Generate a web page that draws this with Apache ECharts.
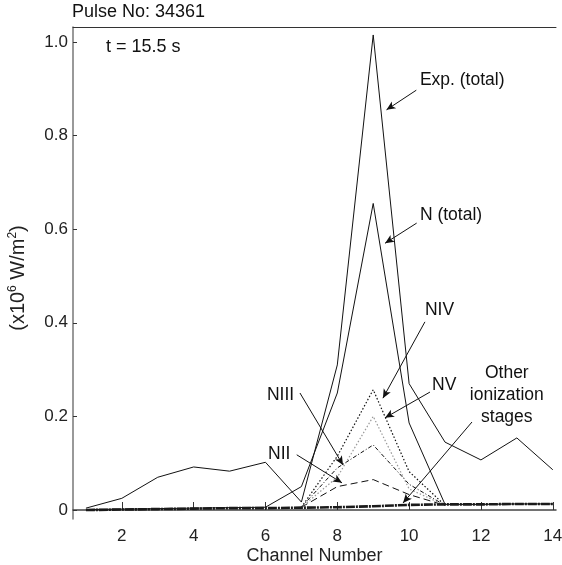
<!DOCTYPE html>
<html>
<head>
<meta charset="utf-8">
<script src="https://cdn.jsdelivr.net/npm/echarts@6/dist/echarts.min.js"></script>
<style>
  html, body { margin: 0; background: #fff; }
  #chart { width: 562px; height: 565px; }
</style>
</head>
<body>
<div id="chart"></div>
<script>
// channel numbers on the x axis
const channels = [1, 2, 3, 4, 5, 6, 7, 8, 9, 10, 11, 12, 13, 14]

// radiated power, x10^6 W/m^2
const expTotal = [0.004, 0.025, 0.07, 0.092, 0.083, 0.102, 0.017, 0.31, 1.015, 0.27, 0.145, 0.107, 0.154, 0.086]
const nTotal = [0.001, 0.002, 0.003, 0.004, 0.005, 0.006, 0.05, 0.25, 0.655, 0.186, 0.012, 0.012, 0.013, 0.013]
const nII = [null, null, null, null, null, null, 0.006, 0.05, 0.065, 0.033, 0.01, null, null, null]
const nIII = [null, null, null, null, null, null, 0.006, 0.09, 0.139, 0.055, 0.01, null, null, null]
const nIV = [null, null, null, null, null, null, 0.006, 0.115, 0.257, 0.082, 0.01, null, null, null]
const nV = [null, null, null, null, null, null, 0.006, 0.07, 0.2, 0.045, 0.01, null, null, null]
const otherStages = [0, 0.001, 0.002, 0.003, 0.004, 0.004, 0.005, 0.006, 0.008, 0.011, 0.012, 0.012, 0.013, 0.013]

const xTicks = [2, 4, 6, 8, 10, 12, 14]
const yTicks = [0, 0.2, 0.4, 0.6, 0.8, 1.0]

// annotation labels: text, label anchor [channel, value], arrow start, arrow tip
const annText = ['Exp. (total)', 'N (total)', 'NIV', 'NV', 'Other\nionization\nstages', 'NIII', 'NII']
const annAnchor = [[10.3, 0.919], [10.3, 0.63], [10.44, 0.427], [10.64, 0.267], [12.72, 0.246], [6.04, 0.246], [6.07, 0.12]]
const annAlign = ['left', 'left', 'left', 'left', 'center', 'left', 'left']
const annFrom = [[10.2, 0.897], [10.21, 0.613], [10.44, 0.402], [10.58, 0.252], [11.75, 0.188], [6.96, 0.25], [6.87, 0.118]]
const annTo = [[9.37, 0.855], [9.33, 0.57], [9.27, 0.239], [9.33, 0.197], [9.83, 0.015], [8.16, 0.096], [8.13, 0.058]]

const font = 'Liberation Sans, Arial, sans-serif'
const pairs = (vals) => channels.map((c, i) => [c, vals[i]])

const chart = echarts.init(document.getElementById('chart'))

function lineSeries(name, vals, color, type, width) {
  return {
    name,
    type: 'line',
    data: pairs(vals),
    showSymbol: false,
    connectNulls: false,
    lineStyle: { color, width, type },
    z: 3,
  }
}

chart.setOption({
  animation: false,
  backgroundColor: '#fff',
  grid: { left: 73, right: 6, top: 27, bottom: 46, outerBoundsMode: 'none' },
  xAxis: [
    {
      type: 'value',
      min: 0.64,
      max: 14.09,
      name: 'Channel Number',
      nameLocation: 'middle',
      nameGap: 28,
      nameMoveOverlap: false,
      nameTextStyle: { fontFamily: font, fontSize: 18, color: '#222' },
      axisLine: { lineStyle: { color: '#444', width: 1.5 } },
      axisTick: { inside: true, length: 8, customValues: xTicks, lineStyle: { color: '#333' } },
      axisLabel: { customValues: xTicks, fontFamily: font, fontSize: 17, color: '#222', margin: 9 },
      splitLine: { show: false },
    },
    {
      type: 'value',
      position: 'top',
      min: 0.64,
      max: 14.09,
      axisLine: { show: true, lineStyle: { color: '#333', width: 1 } },
      axisTick: { show: false },
      axisLabel: { show: false },
      splitLine: { show: false },
    },
  ],
  yAxis: {
    type: 'value',
    min: -0.0192,
    max: 1.032,
    axisLine: { show: true, lineStyle: { color: '#777', width: 1.5 } },
    axisTick: { inside: true, length: 4, customValues: yTicks, lineStyle: { color: '#333' } },
    axisLabel: {
      customValues: yTicks,
      fontFamily: font,
      fontSize: 17,
      color: '#222',
      margin: 5,
      formatter: (v) => (v === 0 ? '0' : v.toFixed(1)),
    },
    splitLine: { show: false },
  },
  series: [
    lineSeries('Exp. (total)', expTotal, '#111', 'solid', 1),
    lineSeries('N (total)', nTotal, '#111', 'solid', 1),
    lineSeries('NII', nII, '#111', [7, 4], 1),
    lineSeries('NIII', nIII, '#111', [4, 2, 1, 2], 1),
    lineSeries('NIV', nIV, '#111', [1.5, 2], 1.2),
    lineSeries('NV', nV, '#999', [1.5, 2], 1.2),
    Object.assign(lineSeries('Other', otherStages, '#1a1a1a', [9, 1, 2, 1], 2.6), {
      markLine: {
        silent: true,
        symbol: ['none', 'arrow'],
        symbolSize: [6, 9],
        label: { show: false },
        lineStyle: { color: '#111', width: 1, type: 'solid' },
        data: annFrom.map((p, i) => [{ coord: p }, { coord: annTo[i] }]),
      },
    }),
  ],
})

const labels = annText.map((t, i) => {
  const [px, py] = chart.convertToPixel({ gridIndex: 0 }, annAnchor[i])
  return {
    type: 'text',
    x: px,
    y: py,
    style: {
      text: t,
      fontFamily: font,
      fontSize: 17.5,
      fill: '#111',
      align: annAlign[i],
      verticalAlign: 'middle',
      lineHeight: 22,
    },
  }
})

chart.setOption({
  graphic: [
    {
      type: 'text',
      left: 72,
      top: 3,
      style: { text: 'Pulse No: 34361', fontFamily: font, fontSize: 18, fill: '#111' },
    },
    {
      type: 'text',
      left: 106,
      top: 38,
      style: { text: 't = 15.5 s', fontFamily: font, fontSize: 18, fill: '#111' },
    },
    {
      type: 'text',
      x: 18,
      y: 278,
      rotation: Math.PI / 2,
      style: {
        text: '(x10{sup|6} W/m{sup|2})',
        fontFamily: font,
        fontSize: 20,
        fill: '#222',
        align: 'center',
        verticalAlign: 'middle',
        rich: { sup: { fontFamily: font, fontSize: 12, fill: '#222', verticalAlign: 'top', padding: [0, 0, 10, 0] } },
      },
    },
    ...labels,
  ],
})
</script>
</body>
</html>
